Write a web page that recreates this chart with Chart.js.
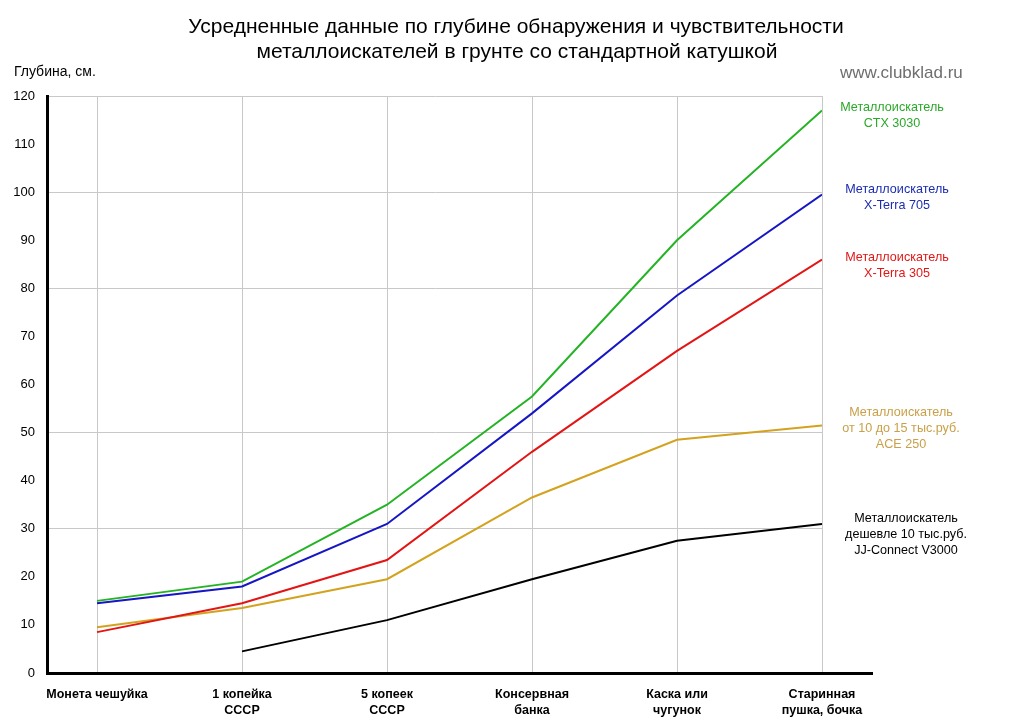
<!DOCTYPE html>
<html>
<head>
<meta charset="utf-8">
<script src="https://cdn.jsdelivr.net/npm/chart.js@4/dist/chart.umd.min.js"></script>
<style>
  html, body { margin: 0; padding: 0; background: #fff; }
  #wrap { width: 1024px; height: 725px; position: relative; }
</style>
</head>
<body>
<div id="wrap"><canvas id="chart"></canvas></div>
<script>
// categories (x axis)
const categories = [
    "Монета чешуйка",
    ["1 копейка", "СССР"],
    ["5 копеек", "СССР"],
    ["Консервная", "банка"],
    ["Каска или", "чугунок"],
    ["Старинная", "пушка, бочка"]
];

// depth, cm
const ctx3030   = [15, 19, 35, 57.5, 90, 117];
const xterra705 = [14.5, 18, 31, 54, 78.5, 99.5];
const xterra305 = [8.5, 14.5, 23.5, 46, 67, 86];
const ace250    = [9.5, 13.5, 19.5, 36.5, 48.5, 51.5];
const jjConnect = [null, 4.5, 11, 19.5, 27.5, 31];

const seriesNames = [
    ["Металлоискатель", "CTX 3030"],
    ["Металлоискатель", "X-Terra 705"],
    ["Металлоискатель", "X-Terra 305"],
    ["Металлоискатель", "от 10 до 15 тыс.руб.", "ACE 250"],
    ["Металлоискатель", "дешевле 10 тыс.руб.", "JJ-Connect V3000"]
];

const titleLines = [
    "Усредненные данные по глубине обнаружения и чувствительности",
    "металлоискателей в грунте со стандартной катушкой"
];

// y ticks and the few grid lines that are drawn
const yTicks = [0, 10, 20, 30, 40, 50, 60, 70, 80, 90, 100, 110, 120];
const yGridLines = [30, 50, 80, 100, 120];

const FONT = "'Liberation Sans', Arial, sans-serif";

const lineColors  = ["#24b324", "#1616c4", "#e31414", "#d3a21e", "#000000"];
const labelColors = ["#2aa82a", "#1c2cb0", "#e01818", "#c9a048", "#000000"];

function toPoints(arr) {
    return arr.map((v, i) => ({ x: i, y: v }));
}

const allSeries = [ctx3030, xterra705, xterra305, ace250, jjConnect];

const datasets = allSeries.map((s, i) => ({
    label: seriesNames[i].join(" "),
    data: toPoints(s),
    borderColor: lineColors[i],
    backgroundColor: lineColors[i],
    borderWidth: 2,
    pointRadius: 0,
    tension: 0,
    spanGaps: false
}));

// title, texts around the plot + longer x axis line
const extras = {
    id: "extras",
    afterDraw(chart) {
        const c = chart.ctx;
        const area = chart.chartArea;
        const ys = chart.scales.y;
        c.save();

        // x axis line goes a bit past the last category
        c.strokeStyle = "#000";
        c.lineWidth = 3;
        c.beginPath();
        c.moveTo(area.right - 1, area.bottom + 0.5);
        c.lineTo(area.right + 51, area.bottom + 0.5);
        c.stroke();

        c.textBaseline = "middle";
        c.textAlign = "center";
        c.fillStyle = "#000";
        c.font = "21px " + FONT;
        c.fillText(titleLines[0], 516, 27);
        c.fillText(titleLines[1], 517, 52);

        c.textAlign = "left";
        c.font = "14px " + FONT;
        c.fillText("Глубина, см.", 14, 72);

        c.fillStyle = "#6e6e6e";
        c.font = "17px " + FONT;
        c.fillText("www.clubklad.ru", 840, 73);

        // series names next to the line ends
        const dx = [70, 75, 75, 79, 84];
        const dy = [-3, -5, -2, -13, -5];
        c.textAlign = "center";
        c.font = "12.6px " + FONT;
        chart.data.datasets.forEach((ds, i) => {
            const last = ds.data[ds.data.length - 1].y;
            const y0 = ys.getPixelForValue(last) + dy[i];
            c.fillStyle = labelColors[i];
            seriesNames[i].forEach((t, k) => {
                c.fillText(t, area.right + dx[i], y0 + k * 16);
            });
        });
        c.restore();
    }
};

new Chart(document.getElementById("chart"), {
    type: "line",
    data: { datasets: datasets },
    options: {
        responsive: true,
        maintainAspectRatio: false,
        animation: false,
        layout: { padding: { left: 0, right: 202, top: 96, bottom: 0 } },
        plugins: {
            legend: { display: false },
            tooltip: { enabled: false },
            title: { display: false }
        },
        scales: {
            x: {
                type: "linear",
                min: -0.345,
                max: 5,
                afterBuildTicks: (s) => { s.ticks = categories.map((_, i) => ({ value: i })); },
                afterFit: (s) => { s.height = 52; },
                grid: { color: "#c8c8c8", lineWidth: 1, drawTicks: false },
                border: { display: true, color: "#000", width: 3 },
                ticks: {
                    padding: 13,
                    color: "#000",
                    maxRotation: 0,
                    autoSkip: false,
                    font: { family: FONT, size: 12.5, weight: "bold", lineHeight: 1.3 },
                    callback: (v) => categories[v]
                }
            },
            y: {
                min: 0,
                max: 120,
                afterBuildTicks: (s) => { s.ticks = yTicks.map(v => ({ value: v })); },
                afterFit: (s) => { s.width = 47; },
                grid: {
                    drawTicks: false,
                    lineWidth: 1,
                    color: (ctx) => yGridLines.includes(ctx.tick.value) ? "#c8c8c8" : "rgba(0,0,0,0)"
                },
                border: { display: true, color: "#000", width: 3 },
                ticks: {
                    padding: 12,
                    color: "#000",
                    font: { family: FONT, size: 13 }
                }
            }
        }
    },
    plugins: [extras]
});
</script>
</body>
</html>
